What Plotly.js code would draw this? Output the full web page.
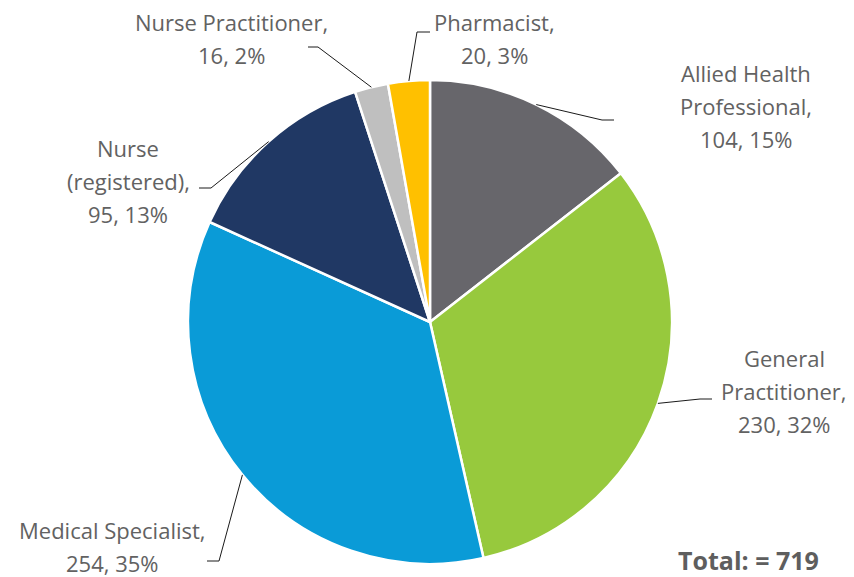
<!DOCTYPE html>
<html>
<head>
<meta charset="utf-8">
<script src="https://cdn.plot.ly/plotly-3.0.1.min.js"></script>
<style>html,body{margin:0;padding:0;background:#fff;}#chart{width:854px;height:577px;}</style>
</head>
<body>
<div id="chart"></div>
<script>
// ---- data ----
const categories = ["Allied Health Professional", "General Practitioner", "Medical Specialist", "Nurse (registered)", "Nurse Practitioner", "Pharmacist"];
const values = [104, 230, 254, 95, 16, 20];
const pctLabels = [15, 32, 35, 13, 2, 3];
const colors = ["#67666b", "#97c93d", "#0a9bd7", "#203864", "#bfbfbf", "#ffc000"];
const nameLines = [["Allied Health", "Professional,"], ["General", "Practitioner,"], ["Medical Specialist,"], ["Nurse", "(registered),"], ["Nurse Practitioner,"], ["Pharmacist,"]];
const totalLabel = "Total: = 719";

// ---- layout (pixels) ----
const W = 854, H = 577;
const cx = 430, cy = 322, R = 242;
// label block: center x, first line center y
const labelPos = [[746, 73], [784, 358], [112, 530], [128, 148], [231, 22], [494, 22]];
const lineGap = 33;
// leader lines: elbow and end
const leaders = [[[602, 120], [614, 120]], [[700, 399], [712, 399]], [[219, 561], [207, 561]], [[211, 188], [199, 188]], [[318, 47], [308, 47]], [[417, 32], [430, 32]]];

const px = x => x / W, py = y => 1 - y / H;
const total = values.reduce((a, b) => a + b, 0);
const textColor = "#626262";
const font = "'Open Sans', sans-serif";

const annotations = [];
const shapes = [];
let cum = 0;
values.forEach((v, i) => {
  const mid = (cum + v / 2) / total * 2 * Math.PI;
  cum += v;
  const sx = cx + R * Math.sin(mid), sy = cy - R * Math.cos(mid);
  const lines = nameLines[i].concat([v + ", " + pctLabels[i] + "%"]);
  lines.forEach((t, k) => {
    annotations.push({
      text: t, x: px(labelPos[i][0]), y: py(labelPos[i][1] + k * lineGap),
      xref: "paper", yref: "paper", xanchor: "center", yanchor: "middle",
      showarrow: false, font: {family: font, size: 22, color: textColor}
    });
  });
  const [e, f] = leaders[i];
  shapes.push({
    type: "path", xref: "paper", yref: "paper",
    path: `M ${px(sx)},${py(sy)} L ${px(e[0])},${py(e[1])} L ${px(f[0])},${py(f[1])}`,
    line: {color: "#1a1a1a", width: 1}
  });
});
annotations.push({
  text: "<b>" + totalLabel + "</b>", x: px(748), y: py(560), xref: "paper", yref: "paper",
  xanchor: "center", yanchor: "middle", showarrow: false,
  font: {family: font, size: 25, color: "#5e5e5e"}
});

const trace = {
  type: "pie", labels: categories, values: values, sort: false, direction: "clockwise", rotation: 0,
  marker: {colors: colors, line: {color: "#ffffff", width: 2.5}},
  textinfo: "none", hoverinfo: "none", showlegend: false,
  domain: {x: [px(cx - R), px(cx + R)], y: [py(cy + R), py(cy - R)]}
};

Plotly.newPlot("chart", [trace], {
  width: W, height: H, margin: {l: 0, r: 0, t: 0, b: 0},
  paper_bgcolor: "#ffffff", showlegend: false,
  annotations: annotations, shapes: shapes
}, {staticPlot: true});
</script>
</body>
</html>
